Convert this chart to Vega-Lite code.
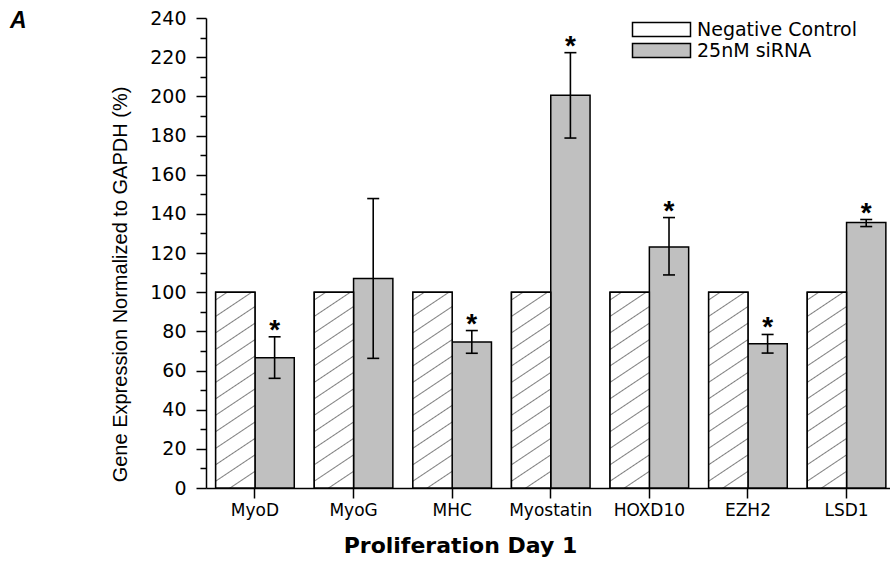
{
  "$schema": "https://vega.github.io/schema/vega-lite/v6.json",
  "width": 684,
  "height": 470,
  "autosize": {"type": "none"},
  "padding": {"left": 206, "top": 18, "right": 0, "bottom": 73},
  "background": "white",
  "config": {"view": {"stroke": null}, "axis": {"grid": false}},
  "title": {
    "text": "A",
    "anchor": "start",
    "frame": "group",
    "font": "Liberation Sans",
    "fontSize": 23,
    "fontStyle": "italic",
    "fontWeight": "bold",
    "color": "black",
    "baseline": "alphabetic",
    "offset": 0,
    "dx": -196,
    "dy": 42
  },
  "resolve": {"axis": {"y": "independent"}},
  "data": {
    "values": [
      {"gene": "MyoD", "group": "Negative Control", "value": 100},
      {"gene": "MyoD", "group": "25nM siRNA", "value": 66.5, "lo": 56, "hi": 77.2, "sig": "*"},
      {"gene": "MyoG", "group": "Negative Control", "value": 100},
      {"gene": "MyoG", "group": "25nM siRNA", "value": 107, "lo": 66.2, "hi": 147.8, "sig": ""},
      {"gene": "MHC", "group": "Negative Control", "value": 100},
      {"gene": "MHC", "group": "25nM siRNA", "value": 74.6, "lo": 68.8, "hi": 80.4, "sig": "*"},
      {"gene": "Myostatin", "group": "Negative Control", "value": 100},
      {"gene": "Myostatin", "group": "25nM siRNA", "value": 200.5, "lo": 178.7, "hi": 222.3, "sig": "*"},
      {"gene": "HOXD10", "group": "Negative Control", "value": 100},
      {"gene": "HOXD10", "group": "25nM siRNA", "value": 123.1, "lo": 108.8, "hi": 138.1, "sig": "*"},
      {"gene": "EZH2", "group": "Negative Control", "value": 100},
      {"gene": "EZH2", "group": "25nM siRNA", "value": 73.6, "lo": 68.9, "hi": 78.4, "sig": "*"},
      {"gene": "LSD1", "group": "Negative Control", "value": 100},
      {"gene": "LSD1", "group": "25nM siRNA", "value": 135.6, "lo": 133.5, "hi": 137.1, "sig": "*"}
    ]
  },
  "encoding": {
    "x": {
      "field": "gene",
      "type": "nominal",
      "sort": ["MyoD", "MyoG", "MHC", "Myostatin", "HOXD10", "EZH2", "LSD1"],
      "scale": {"paddingInner": 0.2028, "paddingOuter": 0.07, "align": 0.7},
      "axis": {
        "title": "Proliferation Day 1",
        "titleFont": "DejaVu Sans",
        "titleFontWeight": "bold",
        "titleFontSize": 22,
        "titleColor": "black",
        "titleX": 254,
        "titleY": 57,
        "titleAlign": "center",
        "titleBaseline": "middle",
        "labelAngle": 0,
        "labelFont": "DejaVu Sans",
        "labelFontSize": 17,
        "labelColor": "black",
        "labelPadding": 4,
        "tickSize": 10,
        "tickWidth": 1.5,
        "tickColor": "black",
        "domainColor": "black",
        "domainWidth": 1.5
      }
    },
    "xOffset": {
      "field": "group",
      "type": "nominal",
      "scale": {"domain": ["Negative Control", "25nM siRNA"], "paddingInner": 0, "paddingOuter": 0}
    }
  },
  "layer": [
    {
      "mark": {"type": "bar", "stroke": "black", "strokeWidth": 1.5},
      "encoding": {
        "y": {
          "field": "value",
          "type": "quantitative",
          "title": "Gene Expression Normalized to GAPDH (%)",
          "scale": {"domain": [0, 240], "nice": false},
          "axis": {
            "orient": "left",
            "values": [0, 20, 40, 60, 80, 100, 120, 140, 160, 180, 200, 220, 240],
            "labelOverlap": false,
            "labelFlush": false,
            "tickSize": 10,
            "labelPadding": 10,
            "labelFont": "DejaVu Sans",
            "labelFontSize": 19,
            "labelColor": "black",
            "tickWidth": 1.5,
            "tickColor": "black",
            "domainColor": "black",
            "domainWidth": 1.5,
            "titleFont": "Liberation Sans",
            "titleFontSize": 20,
            "titleFontWeight": "normal",
            "titleColor": "black",
            "titleX": -86,
            "titleY": 266,
            "titleAngle": 270,
            "titleAlign": "center",
            "titleBaseline": "middle"
          }
        },
        "fill": {
          "field": "group",
          "type": "nominal",
          "scale": {
            "domain": ["Negative Control", "25nM siRNA"],
            "range": ["white", "#c0c0c0"]
          },
          "legend": {
            "title": null,
            "orient": "none",
            "legendX": 446,
            "legendY": 2,
            "symbolType": "M-4.143,-1H4.143V1H-4.143Z",
            "symbolSize": 196,
            "symbolOpacity": 1,
            "labelFont": "DejaVu Sans",
            "labelFontSize": 19,
            "labelColor": "black",
            "labelOffset": 26,
            "rowPadding": 0,
            "padding": 0,
            "encode": {
              "symbols": {
                "stroke": {"value": "black"},
                "strokeWidth": {"value": 1.5}
              }
            }
          }
        }
      }
    },
    {
      "transform": [{"filter": "datum.group === 'Negative Control'"}],
      "mark": {
        "type": "bar",
        "stroke": "black",
        "strokeWidth": 1.5,
        "fill": {
          "gradient": "linear",
          "x1": 0, "y1": 0, "x2": 0.1495, "y2": 1.1141,
          "stops": [
            {"offset": 0, "color": "white"},
            {"offset": 0.0295, "color": "white"}, {"offset": 0.035, "color": "#808080"}, {"offset": 0.0405, "color": "white"},
            {"offset": 0.1035, "color": "white"}, {"offset": 0.109, "color": "#808080"}, {"offset": 0.1145, "color": "white"},
            {"offset": 0.1775, "color": "white"}, {"offset": 0.183, "color": "#808080"}, {"offset": 0.1885, "color": "white"},
            {"offset": 0.2525, "color": "white"}, {"offset": 0.258, "color": "#808080"}, {"offset": 0.2635, "color": "white"},
            {"offset": 0.3265, "color": "white"}, {"offset": 0.332, "color": "#808080"}, {"offset": 0.3375, "color": "white"},
            {"offset": 0.4005, "color": "white"}, {"offset": 0.406, "color": "#808080"}, {"offset": 0.4115, "color": "white"},
            {"offset": 0.4745, "color": "white"}, {"offset": 0.48, "color": "#808080"}, {"offset": 0.4855, "color": "white"},
            {"offset": 0.5485, "color": "white"}, {"offset": 0.554, "color": "#808080"}, {"offset": 0.5595, "color": "white"},
            {"offset": 0.6225, "color": "white"}, {"offset": 0.628, "color": "#808080"}, {"offset": 0.6335, "color": "white"},
            {"offset": 0.6975, "color": "white"}, {"offset": 0.703, "color": "#808080"}, {"offset": 0.7085, "color": "white"},
            {"offset": 0.7715, "color": "white"}, {"offset": 0.777, "color": "#808080"}, {"offset": 0.7825, "color": "white"},
            {"offset": 0.8455, "color": "white"}, {"offset": 0.851, "color": "#808080"}, {"offset": 0.8565, "color": "white"},
            {"offset": 0.9195, "color": "white"}, {"offset": 0.925, "color": "#808080"}, {"offset": 0.9305, "color": "white"},
            {"offset": 1, "color": "white"}
          ]
        }
      },
      "encoding": {
        "y": {
          "field": "value",
          "type": "quantitative",
          "axis": {
            "orient": "left",
            "title": null,
            "values": [10, 30, 50, 70, 90, 110, 130, 150, 170, 190, 210, 230],
            "labels": false,
            "domain": false,
            "tickSize": 6,
            "tickWidth": 1.5,
            "tickColor": "black"
          }
        }
      }
    },
    {
      "transform": [{"filter": "datum.group === '25nM siRNA'"}],
      "mark": {"type": "rule", "strokeWidth": 1.6, "color": "black"},
      "encoding": {
        "y": {"field": "lo", "type": "quantitative", "axis": null},
        "y2": {"field": "hi"}
      }
    },
    {
      "transform": [{"filter": "datum.group === '25nM siRNA'"}],
      "mark": {"type": "tick", "thickness": 1.6, "size": 12, "color": "black", "opacity": 1},
      "encoding": {
        "y": {"field": "lo", "type": "quantitative", "axis": null}
      }
    },
    {
      "transform": [{"filter": "datum.group === '25nM siRNA'"}],
      "mark": {"type": "tick", "thickness": 1.6, "size": 12, "color": "black", "opacity": 1},
      "encoding": {
        "y": {"field": "hi", "type": "quantitative", "axis": null}
      }
    },
    {
      "transform": [{"filter": "datum.sig === '*'"}],
      "mark": {"type": "text", "text": "*", "font": "Liberation Sans", "fontWeight": "bold", "fontSize": 28, "baseline": "alphabetic", "dy": 2, "color": "black"},
      "encoding": {
        "y": {"field": "hi", "type": "quantitative", "axis": null}
      }
    }
  ]
}
